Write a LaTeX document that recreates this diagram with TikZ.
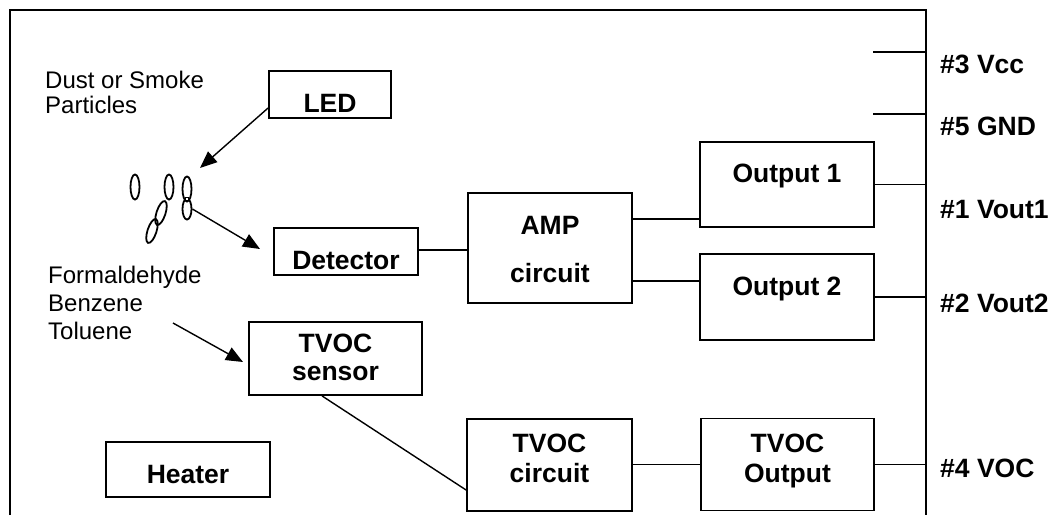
\documentclass[tikz,border=0pt]{standalone}
\usepackage{fontspec}
\setmainfont{Liberation Sans}
\usetikzlibrary{arrows.meta,shapes.geometric}
\begin{document}
\begin{tikzpicture}[x=1pt,y=-1pt,
  box/.style={draw, line width=1.8pt, inner sep=0pt},
  wire/.style={line width=1.4pt},
  arr/.style={line width=1.4pt, -{Triangle[length=17pt,width=14pt]}},
  lbl/.style={font=\bfseries\fontsize{26.5}{28}\selectfont, inner sep=0pt, align=center, anchor=base},
  pin/.style={font=\bfseries\fontsize{26.5}{28}\selectfont, inner sep=0pt, anchor=base west},
  txt/.style={font=\fontsize{24}{25}\selectfont, inner sep=0pt, anchor=base west},
  part/.style={draw, ellipse, line width=1.8pt, inner sep=0pt, minimum width=9pt, minimum height=25pt}]
\fill[white] (0,0) rectangle (1053,515);
\useasboundingbox (0,0) rectangle (1053,515);
% frame
\draw[line width=1.6pt] (10,515) -- (10,10) -- (926,10) -- (926,515);
% boxes
\node[box, minimum width=122pt, minimum height=47pt] (led) at (330,94.5) {};
\node[box, minimum width=144pt, minimum height=47pt] (det) at (346,251.5) {};
\node[box, minimum width=164pt, minimum height=110pt] (amp) at (550,248) {};
\node[box, minimum width=174pt, minimum height=85pt] (out1) at (787,184.5) {};
\node[box, minimum width=174pt, minimum height=86pt] (out2) at (787,297) {};
\node[box, minimum width=173pt, minimum height=73pt] (sens) at (335.5,358.5) {};
\node[box, minimum width=165pt, minimum height=92pt] (tcirc) at (549.5,465) {};
\node[box, minimum width=173pt, minimum height=92pt] (tout) at (787.5,464.5) {};
\node[box, minimum width=164pt, minimum height=55pt] (heat) at (188,469.5) {};
% box texts
\node[lbl] (tled) at (330,112) {LED};
\node[lbl] (tdet) at (346,269) {Detector};
\node[lbl] (tamp) at (550,282) {AMP\\[20pt]circuit};
\node[lbl] (tout1) at (787,182) {Output 1};
\node[lbl] (tout2) at (787,295) {Output 2};
\node[lbl] (tsens) at (335.5,380) {TVOC\\sensor};
\node[lbl] (ttcirc) at (549.5,482) {TVOC\\[2pt]circuit};
\node[lbl] (ttout) at (787.5,482) {TVOC\\[2pt]Output};
\node[lbl] (theat) at (188,483) {Heater};
% free texts
\node[txt] (dust) at (45,88) {Dust or Smoke};
\node[txt] (parts) at (45,113) {Particles};
\node[txt] (form) at (48,283) {Formaldehyde};
\node[txt] (benz) at (48,311) {Benzene};
\node[txt] (tol) at (48,339) {Toluene};
% pin labels
\node[pin] (vcc) at (940,73) {\#3 Vcc};
\node[pin] (gnd) at (940,135) {\#5 GND};
\node[pin] (vo1) at (940,218) {\#1 Vout1};
\node[pin] (vo2) at (940,312) {\#2 Vout2};
\node[pin] (voc) at (940,477) {\#4 VOC};
% particles
\node[part] (p1) at (135,187) {};
\node[part] (p2) at (169,187) {};
\node[part] (p3) at (187,189) {};
\node[part, minimum height=21pt] (p4) at (187,209) {};
\node[part, rotate=-18] (p5) at (161,213) {};
\node[part, rotate=-18] (p6) at (152,231) {};
\draw[fill=white, line width=0.9pt] (185.3,197.3) rectangle (188.7,200.7);
% pin stubs
\coordinate (vccin) at (873,52);
\coordinate (gndin) at (873,114);
\draw[wire] (vccin) -- (vccin -| 926,0);
\draw[wire] (gndin) -- (gndin -| 926,0);
\draw[wire] (out1.east) -- (926,184.5);
\draw[wire] (out2.east) -- (926,297);
\draw[wire] (tout.east) -- (926,464.5);
% connectors
\draw[wire] (det.east |- 0,250) -- (amp.west |- 0,250);
\draw[wire] (amp.east |- 0,219) -- (out1.west |- 0,219);
\draw[wire] (amp.east |- 0,281) -- (out2.west |- 0,281);
\draw[wire] (tcirc.east |- 0,464.5) -- (tout.west |- 0,464.5);
\draw[wire] (sens.south -| 322,0) -- (tcirc.west |- 0,490);
% arrows
\coordinate (ledtip) at (200,168);
\coordinate (dettip) at (260,249);
\coordinate (senstip) at (243,362);
\coordinate (formstart) at (173,323);
\draw[arr] (led.west |- 0,108) -- (ledtip);
\draw[arr] (p4.east) -- (dettip);
\draw[arr] (formstart) -- (senstip);
\end{tikzpicture}
\end{document}
